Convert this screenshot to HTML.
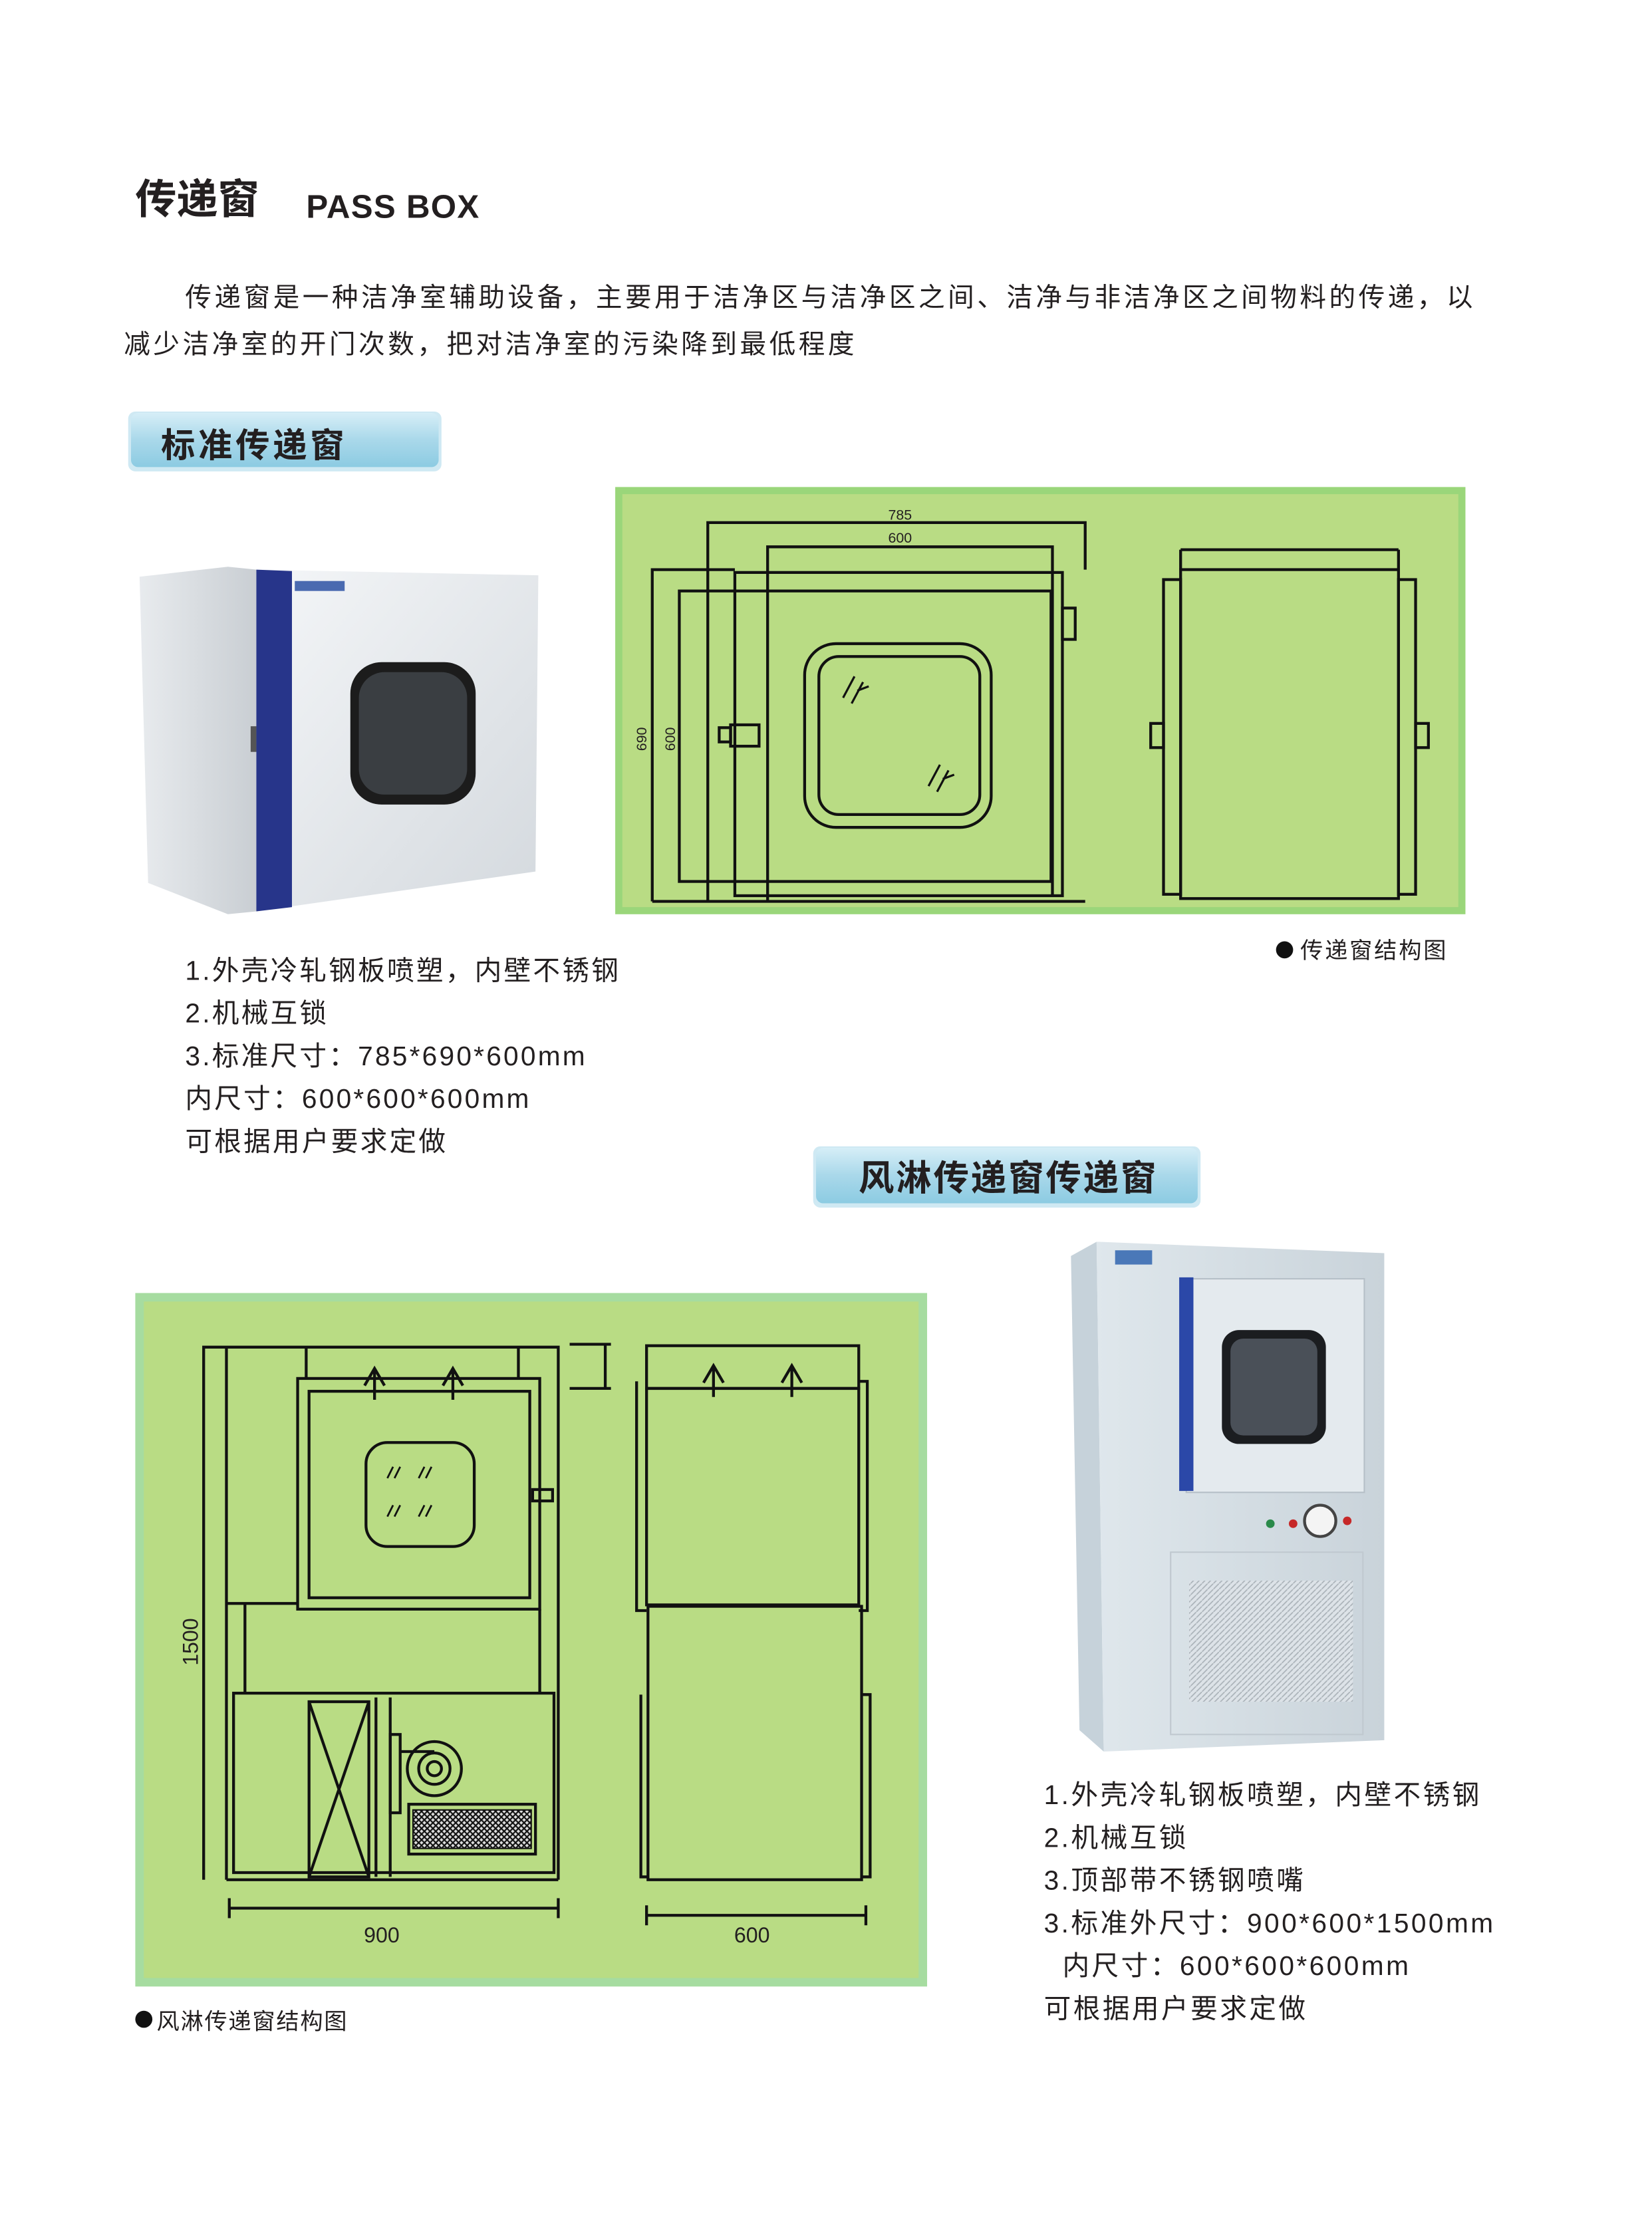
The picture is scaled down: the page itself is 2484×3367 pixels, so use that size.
<!DOCTYPE html>
<html><head><meta charset="utf-8"><style>
html,body{margin:0;padding:0;background:#fff;}
svg{display:block;}
text{font-family:"Liberation Sans","Noto Sans CJK SC",sans-serif;fill:#231f20;}
</style></head><body>
<svg width="2484" height="3367" viewBox="0 0 1160 1572.3" preserveAspectRatio="none" xmlns="http://www.w3.org/2000/svg">
<defs>
<linearGradient id="badge" x1="0" y1="0" x2="0" y2="1">
<stop offset="0" stop-color="#d6eef7"/><stop offset="0.5" stop-color="#a9d8ea"/><stop offset="1" stop-color="#8ccbe2"/></linearGradient>
<linearGradient id="side" x1="0" y1="0" x2="1" y2="0">
<stop offset="0" stop-color="#e8ebee"/><stop offset="1" stop-color="#c9ced3"/></linearGradient>
<linearGradient id="front" x1="0" y1="0" x2="1" y2="1">
<stop offset="0" stop-color="#f4f6f8"/><stop offset="1" stop-color="#d4d9de"/></linearGradient>
<linearGradient id="cab" x1="0" y1="0" x2="1" y2="0">
<stop offset="0" stop-color="#dfe7ec"/><stop offset="1" stop-color="#c9d3da"/></linearGradient>
<pattern id="hatch" width="4" height="4" patternUnits="userSpaceOnUse"><rect width="4" height="4" fill="#ddd"/><path d="M0 4L4 0M0 0L4 4" stroke="#111" stroke-width="1"/></pattern>
<pattern id="mesh" width="4" height="4" patternUnits="userSpaceOnUse"><rect width="4" height="4" fill="#dde3e8"/><path d="M0 4L4 0" stroke="#aab2b8" stroke-width="0.8"/></pattern>
</defs>

<!-- Title -->
<text x="95" y="150" font-size="29" font-weight="bold">传递窗</text>
<text x="215" y="153" font-size="23" font-weight="bold" letter-spacing="0.6">PASS BOX</text>

<text x="130" y="215" font-size="18.5" letter-spacing="2.1">传递窗是一种洁净室辅助设备，主要用于洁净区与洁净区之间、洁净与非洁净区之间物料的传递，以</text>
<text x="87" y="248" font-size="18.5" letter-spacing="2.1">减少洁净室的开门次数，把对洁净室的污染降到最低程度</text>

<!-- Badge 1 -->
<rect x="90" y="289" width="220" height="42" rx="5" fill="#cfe9f3"/>
<rect x="92" y="290" width="216" height="38" rx="5" fill="url(#badge)"/>
<text x="113" y="321" font-size="24" font-weight="bold" letter-spacing="2.2">标准传递窗</text>

<!-- Photo 1 -->
<polygon points="98,405 160,398 180,400 180,640 160,642 104,620" fill="url(#side)"/>
<polygon points="180,400 378,404 376,612 180,640" fill="url(#front)"/>
<polygon points="180,400 205,401 205,637 180,640" fill="#27358a"/>
<rect x="207" y="408" width="35" height="7" fill="#4a6ab0"/>
<rect x="246" y="465" width="88" height="100" rx="22" fill="#1c1c1c"/>
<rect x="252" y="472" width="76" height="86" rx="18" fill="#3a3e42"/>
<rect x="176" y="510" width="4" height="18" fill="#555"/>

<!-- Drawing 1 -->
<rect x="432" y="342" width="597" height="300" fill="#9ad67a"/>
<rect x="437" y="347" width="587" height="290" fill="#b9dc84"/>
<g fill="none" stroke="#111" stroke-width="2">
<path d="M497 633V367H762V400"/>
<path d="M539 633V384H739V629"/>
<path d="M458 633V400H516M458 633H762"/>
<rect x="516" y="402" width="230" height="227"/>
<rect x="477" y="415" width="261" height="204"/>
<rect x="746" y="427" width="9" height="22"/>
<rect x="505" y="511" width="8" height="10"/>
<rect x="513" y="509" width="20" height="15"/>
<rect x="565" y="452" width="131" height="129" rx="22"/>
<rect x="575" y="461" width="113" height="111" rx="14"/>
<path d="M600 475L592 490M606 479L598 494M602 485L610 482M660 537L652 552M666 541L658 556M662 547L670 544" stroke-width="1.5"/>
<rect x="829" y="400" width="153" height="231"/>
<path d="M829 386H982M829 386V400M982 386V400"/>
<rect x="817" y="407" width="12" height="221"/>
<rect x="982" y="407" width="12" height="221"/>
<rect x="808" y="508" width="9" height="17"/>
<rect x="994" y="508" width="9" height="17"/>
</g>
<text x="632" y="365" font-size="10" text-anchor="middle">785</text>
<text x="632" y="381" font-size="10" text-anchor="middle">600</text>
<text transform="translate(454,519) rotate(-90)" font-size="10" text-anchor="middle">690</text>
<text transform="translate(474,519) rotate(-90)" font-size="10" text-anchor="middle">600</text>

<circle cx="902" cy="667" r="6" fill="#111"/>
<text x="913" y="673" font-size="16" letter-spacing="1.3">传递窗结构图</text>

<!-- List 1 -->
<g font-size="19" letter-spacing="1.5">
<text x="130" y="688">1.外壳冷轧钢板喷塑，内壁不锈钢</text>
<text x="130" y="718">2.机械互锁</text>
<text x="130" y="748">3.标准尺寸：785*690*600mm</text>
<text x="130" y="778">内尺寸：600*600*600mm</text>
<text x="130" y="808">可根据用户要求定做</text>
</g>

<!-- Badge 2 -->
<rect x="571" y="805" width="272" height="43" rx="5" fill="#cfe9f3"/>
<rect x="573" y="806" width="268" height="39" rx="5" fill="url(#badge)"/>
<text x="708" y="836" font-size="25" font-weight="bold" text-anchor="middle" letter-spacing="1.3">风淋传递窗传递窗</text>

<!-- Drawing 2 -->
<rect x="95" y="908" width="556" height="487" fill="#a6dca0"/>
<rect x="101" y="914" width="544" height="475" fill="#b9dc84"/>
<g fill="none" stroke="#111" stroke-width="2">
<path d="M143 1320V946H159M159 1320V946H392V1320M159 1320H392"/>
<path d="M215 946V968M364 946V968"/>
<path d="M400 944H429M400 975H429M425 944V975"/>
<rect x="209" y="968" width="170" height="162"/>
<rect x="217" y="977" width="155" height="145"/>
<path d="M263 983V961M256 973L263 961L270 973M318 983V961M311 973L318 961L325 973"/>
<rect x="257" y="1013" width="76" height="73" rx="15"/>
<path d="M276 1030L272 1038M281 1030L277 1038M298 1030L294 1038M303 1030L299 1038M276 1057L272 1065M281 1057L277 1065M298 1057L294 1065M303 1057L299 1065" stroke-width="1.3"/>
<rect x="374" y="1046" width="14" height="8"/>
<path d="M172 1125V1189M379 1130V1189M159 1126H209"/>
<rect x="164" y="1189" width="225" height="126"/>
<rect x="217" y="1195" width="42" height="123"/>
<path d="M217 1195L259 1318M259 1195L217 1318M264 1192V1318M274 1192V1318"/>
<rect x="274" y="1218" width="7" height="55"/>
<circle cx="305" cy="1242" r="19"/>
<circle cx="305" cy="1242" r="11"/>
<circle cx="305" cy="1242" r="5"/>
<path d="M281 1230H305"/>
<rect x="287" y="1267" width="89" height="35"/>
<rect x="290" y="1271" width="83" height="27" fill="url(#hatch)" stroke-width="1"/>
<path d="M161 1340H392M161 1333V1347M392 1333V1347"/>
<rect x="454" y="945" width="149" height="30"/>
<path d="M501 981V959M494 971L501 959L508 971M556 981V959M549 971L556 959L563 971"/>
<rect x="454" y="975" width="149" height="152"/>
<path d="M447 970V1131H454M603 970H609V1131H603"/>
<rect x="455" y="1128" width="150" height="192"/>
<path d="M450 1190V1318H455M605 1190H611V1318H605"/>
<path d="M454 1345H608M454 1338V1352M608 1338V1352"/>
</g>
<text x="268" y="1364" font-size="15" text-anchor="middle">900</text>
<text x="528" y="1364" font-size="15" text-anchor="middle">600</text>
<text transform="translate(139,1153) rotate(-90)" font-size="15" text-anchor="middle">1500</text>

<circle cx="101" cy="1418" r="6" fill="#111"/>
<text x="110" y="1425" font-size="16" letter-spacing="0.8">风淋传递窗结构图</text>

<!-- Photo 2 -->
<polygon points="752,882 770,872 775,1230 758,1215" fill="#c6d2da"/>
<polygon points="770,872 972,880 972,1222 775,1230" fill="url(#cab)"/>
<rect x="783" y="878" width="26" height="10" fill="#4a78b8"/>
<rect x="833" y="898" width="125" height="150" fill="#e4eaee" stroke="#b6c0c8"/>
<rect x="828" y="897" width="10" height="150" fill="#2b48a8"/>
<rect x="858" y="934" width="73" height="80" rx="12" fill="#1b1d20"/>
<rect x="864" y="940" width="61" height="68" rx="9" fill="#4a5058"/>
<circle cx="927" cy="1068" r="11" fill="#f4f4f4" stroke="#444" stroke-width="2"/>
<circle cx="892" cy="1070" r="3" fill="#2a8a4a"/>
<circle cx="908" cy="1070" r="3" fill="#c62828"/>
<circle cx="946" cy="1068" r="3" fill="#c62828"/>
<rect x="822" y="1090" width="135" height="128" fill="none" stroke="#c0c9d0"/>
<rect x="835" y="1110" width="115" height="85" fill="url(#mesh)"/>

<!-- List 2 -->
<g font-size="19" letter-spacing="1.6">
<text x="733" y="1267">1.外壳冷轧钢板喷塑，内壁不锈钢</text>
<text x="733" y="1297">2.机械互锁</text>
<text x="733" y="1327">3.顶部带不锈钢喷嘴</text>
<text x="733" y="1357">3.标准外尺寸：900*600*1500mm</text>
<text x="746" y="1387">内尺寸：600*600*600mm</text>
<text x="733" y="1417">可根据用户要求定做</text>
</g>
</svg>
</body></html>
